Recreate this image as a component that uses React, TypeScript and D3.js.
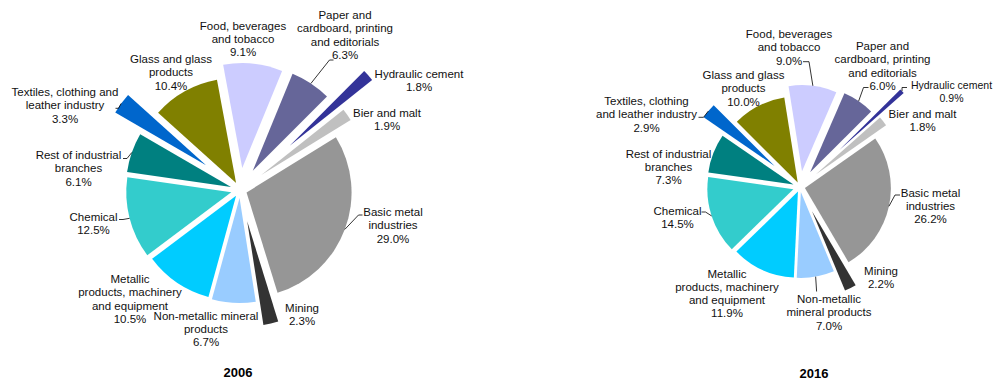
import React from "react";
import * as d3 from "d3";

// ---------- data ----------
const categories = [
  "Food, beverages and tobacco",
  "Paper and cardboard, printing and editorials",
  "Hydraulic cement",
  "Bier and malt",
  "Basic metal industries",
  "Mining",
  "Non-metallic mineral products",
  "Metallic products, machinery and equipment",
  "Chemical",
  "Rest of industrial branches",
  "Textiles, clothing and leather industry",
  "Glass and glass products",
];
const values2006 = [9.1, 6.3, 1.8, 1.9, 29.0, 2.3, 6.7, 10.5, 12.5, 6.1, 3.3, 10.4];
const values2016 = [9.0, 6.0, 0.9, 1.8, 26.2, 2.2, 7.0, 11.9, 14.5, 7.3, 2.9, 10.0];
const years = ["2006", "2016"];

// label line breaks (text wrapping as in the reference)
const lines2006 = [
  ["Food, beverages", "and tobacco"],
  ["Paper and", "cardboard, printing", "and editorials"],
  ["Hydraulic cement"],
  ["Bier and malt"],
  ["Basic metal", "industries"],
  ["Mining"],
  ["Non-metallic mineral", "products"],
  ["Metallic", "products, machinery", "and equipment"],
  ["Chemical"],
  ["Rest of industrial", "branches"],
  ["Textiles, clothing and", "leather industry"],
  ["Glass and glass", "products"],
];
const lines2016 = [
  ["Food, beverages", "and tobacco"],
  ["Paper and", "cardboard, printing", "and editorials"],
  ["Hydraulic cement"],
  ["Bier and malt"],
  ["Basic metal", "industries"],
  ["Mining"],
  ["Non-metallic", "mineral products"],
  ["Metallic", "products, machinery", "and equipment"],
  ["Chemical"],
  ["Rest of industrial", "branches"],
  ["Textiles, clothing", "and leather industry"],
  ["Glass and glass", "products"],
];

// ---------- styles / layout ----------
const colors = [
  "#CCCCFF", "#666699", "#333399", "#C0C0C0", "#969696", "#333333",
  "#99CCFF", "#00CCFF", "#33CCCC", "#008080", "#0066CC", "#808000",
];
const explode2006 = [22, 23, 67, 26, 7, 32, 8, 7, 9, 9.5, 42, 8];
const explode2016 = [16, 18, 54, 20, 5, 27, 5, 5, 7, 7, 33, 5];
const labelPos2006: [number, number][] = [
  [243, 25.5], [345, 15], [419, 74], [387, 113], [393, 212], [302, 308],
  [206, 315.5], [130, 279], [93.5, 216.5], [78.5, 155], [65, 92], [171, 59],
];
const labelPos2016: [number, number][] = [
  [789, 34], [882.5, 46], [951.5, 85], [922.5, 114], [930.5, 192.5], [881, 271],
  [829, 299], [727, 273.5], [677.5, 211], [668.5, 153.5], [646.5, 101], [743.5, 75],
];
const labelSize2006 = [11.5, 11.5, 11.5, 11.5, 11.5, 11.5, 11.5, 11.5, 11.5, 11.5, 11.5, 11.5];
const labelSize2016 = [11.5, 11.5, 10.5, 11.5, 11.5, 11.5, 11.5, 11.5, 11.5, 11.5, 11.5, 11.5];
// leader: [x, y, horizontal run] from label side; null = none
const leaders2006: ([number, number, number] | null)[] = [
  null, [333.5, 60, -4], null, null, [362.5, 215, -4], null,
  null, null, [119, 219.5, 4], [123, 158.5, 4], [115.5, 108.3, 3], null,
];
const leaders2016: ([number, number, number] | null)[] = [
  [803, 61.7, 6], [868.5, 87.5, -5], [907, 87.5, -5], null, [900, 195, -5], null,
  [816.6, 291.5, 0], null, [701.5, 212, 4], null, [698.5, 117.3, 5], null,
];

const FONT = "'Liberation Sans', Arial, Helvetica, sans-serif";
const LH = 13.2;

type PieProps = {
  values: number[];
  cx: number;
  cy: number;
  r: number;
  startDeg: number;
  explode: number[];
  lines: string[][];
  labelPos: [number, number][];
  labelSize: number[];
  leaders: ([number, number, number] | null)[];
  title: string;
  titlePos: [number, number];
};

function PieChart(p: PieProps) {
  const start = (p.startDeg * Math.PI) / 180;
  const arcs = d3
    .pie<number>()
    .sort(null)
    .value((d) => d)
    .startAngle(start)
    .endAngle(start + 2 * Math.PI)(p.values);
  const arcGen = d3.arc<any>().innerRadius(0).outerRadius(p.r);
  const edge = d3.arc<any>().innerRadius(p.r).outerRadius(p.r);

  return (
    <g>
      {arcs.map((a, i) => {
        const mid = (a.startAngle + a.endAngle) / 2;
        const dx = Math.sin(mid) * p.explode[i];
        const dy = -Math.cos(mid) * p.explode[i];
        return (
          <path
            key={"s" + i}
            d={arcGen(a) || ""}
            transform={`translate(${p.cx + dx},${p.cy + dy})`}
            fill={colors[i]}
          />
        );
      })}
      {arcs.map((a, i) => {
        const ld = p.leaders[i];
        if (!ld) return null;
        const mid = (a.startAngle + a.endAngle) / 2;
        const ox = p.cx + Math.sin(mid) * p.explode[i];
        const oy = p.cy - Math.cos(mid) * p.explode[i];
        const [ex, ey] = edge.centroid(a);
        const [lx, ly, run] = ld;
        return (
          <path
            key={"l" + i}
            d={`M${lx},${ly}L${lx + run},${ly}L${ox + ex},${oy + ey}`}
            fill="none"
            stroke="#000"
            strokeWidth={0.8}
          />
        );
      })}
      {p.values.map((v, i) => {
        const [lx, ly] = p.labelPos[i];
        const ls = [...p.lines[i], v.toFixed(1) + "%"];
        return (
          <text
            key={"t" + i}
            x={lx}
            y={ly + 4.1}
            textAnchor="middle"
            fontFamily={FONT}
            fontSize={p.labelSize[i]}
            fill="#111"
          >
            {ls.map((s, k) => (
              <tspan key={k} x={lx} y={ly + 4.1 + k * LH}>
                {s}
              </tspan>
            ))}
          </text>
        );
      })}
      <text
        x={p.titlePos[0]}
        y={p.titlePos[1] + 4.7}
        textAnchor="middle"
        fontFamily={FONT}
        fontSize={13}
        fontWeight="bold"
        fill="#000"
      >
        {p.title}
      </text>
    </g>
  );
}

export default function App() {
  return (
    <div style={{ position: "absolute", left: 0, top: 0 }}>
      <svg width={995} height={381} style={{ display: "block", background: "#fff" }}>
        <PieChart
          values={values2006}
          cx={240}
          cy={190}
          r={105}
          startDeg={-10.5}
          explode={explode2006}
          lines={lines2006}
          labelPos={labelPos2006}
          labelSize={labelSize2006}
          leaders={leaders2006}
          title={years[0]}
          titlePos={[238, 372.5]}
        />
        <PieChart
          values={values2016}
          cx={800}
          cy={187}
          r={86}
          startDeg={-9}
          explode={explode2016}
          lines={lines2016}
          labelPos={labelPos2016}
          labelSize={labelSize2016}
          leaders={leaders2016}
          title={years[1]}
          titlePos={[814, 373.5]}
        />
      </svg>
    </div>
  );
}
